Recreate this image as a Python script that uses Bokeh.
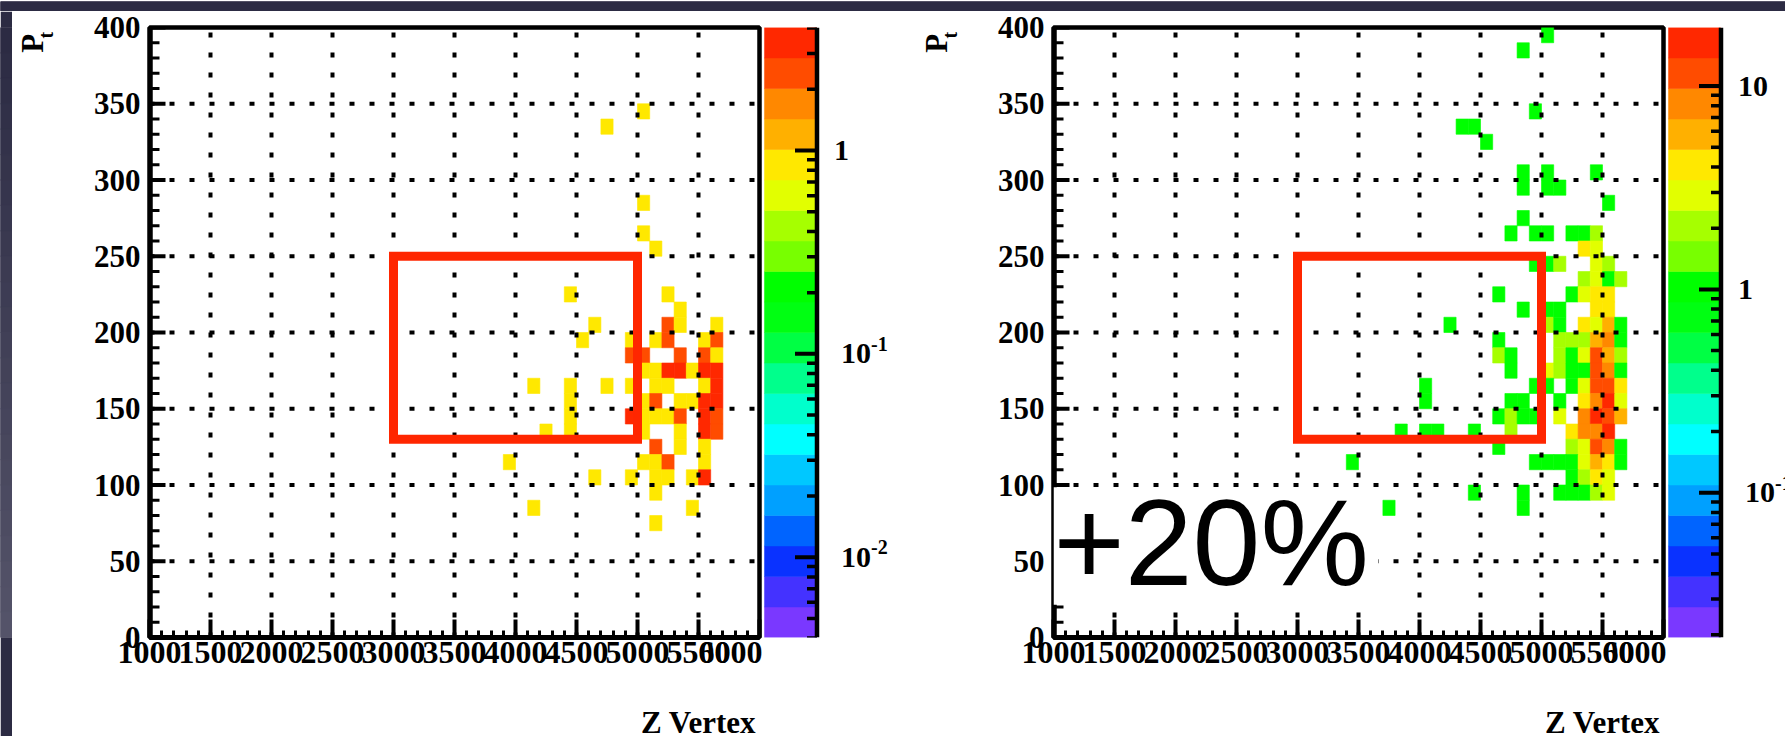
import math

from bokeh.core.properties import value
from bokeh.embed import file_html
from bokeh.layouts import column, row
from bokeh.models import ColumnDataSource, LogColorMapper, Range1d, SingleIntervalTicker
from bokeh.plotting import figure
from bokeh.resources import INLINE

# ---------------------------------------------------------------- data
Z_RANGE = (1000, 6000)     # Z vertex axis
PT_RANGE = (0, 400)        # Pt axis
Z_BIN = 100
PT_BIN = 10
Z_MAJOR = 500              # major tick / grid spacing in z
PT_MAJOR = 50              # major tick / grid spacing in pt
PT_MINOR = 10

# left histogram: lower bin edges (z, pt) and bin contents
left_z = [5000, 4700, 5000, 5000, 5100,
          4400, 5200, 5300,
          4600, 5200, 5300, 5600,
          4500, 4900, 5100, 5200, 5500, 5600,
          4900, 5000, 5300, 5500, 5600,
          5000, 5100, 5200, 5300, 5400, 5500, 5600,
          4100, 4400, 4700, 4900, 5100, 5200, 5500, 5600,
          4400, 5000, 5100, 5300, 5400, 5500, 5600,
          4400, 4900, 5000, 5100, 5200, 5300, 5500, 5600,
          4200, 4400, 5000, 5300, 5500, 5600,
          5100, 5300, 5500,
          3900, 5000, 5100, 5200, 5500,
          4600, 4900, 5100, 5200, 5400, 5500,
          5100, 4100, 5400, 5100]
left_pt = [340, 330, 280, 260, 250,
           220, 220, 210,
           200, 200, 200, 200,
           190, 190, 190, 190, 190, 190,
           180, 180, 180, 180, 180,
           170, 170, 170, 170, 170, 170, 170,
           160, 160, 160, 160, 160, 160, 160, 160,
           150, 150, 150, 150, 150, 150, 150,
           140, 140, 140, 140, 140, 140, 140, 140,
           130, 130, 130, 130, 130, 130,
           120, 120, 120,
           110, 110, 110, 110, 110,
           100, 100, 100, 100, 100, 100,
           90, 80, 80, 70]
left_w = [1.0, 1.0, 1.0, 1.0, 1.0,
          1.0, 1.0, 1.0,
          1.0, 2.5, 1.0, 1.0,
          1.0, 1.0, 1.0, 2.5, 1.0, 2.5,
          2.5, 2.5, 2.5, 2.5, 1.0,
          1.0, 1.0, 3.5, 3.5, 1.0, 3.5, 3.5,
          1.0, 1.0, 1.0, 1.0, 1.0, 1.0, 1.0, 3.5,
          1.0, 1.0, 2.5, 1.0, 1.0, 3.5, 3.5,
          1.0, 3.5, 1.0, 1.0, 1.0, 2.5, 3.5, 2.5,
          1.0, 1.0, 1.0, 1.0, 3.5, 2.5,
          2.5, 1.0, 1.0,
          1.0, 1.0, 1.0, 2.5, 1.0,
          1.0, 1.0, 1.0, 1.0, 1.0, 3.5,
          1.0, 1.0, 1.0, 1.0]

# right histogram (+20%)
right_z = [5000, 4800, 4900, 4300, 4400, 4500,
           4800, 5000, 5400,
           4800, 5000, 5100,
           5500, 4800,
           4700, 4900, 5000, 5200, 5300, 5400,
           5300, 5400,
           4900, 5000, 5100, 5400, 5500,
           5300, 5400, 5500, 5600,
           4600, 5200, 5300, 5400, 5500,
           4800, 5000, 5100, 5400, 5500,
           4200, 5000, 5100, 5300, 5400, 5500, 5600,
           4600, 5100, 5200, 5300, 5400, 5500, 5600,
           4600, 4700, 5100, 5200, 5300, 5400, 5500, 5600,
           4700, 5000, 5100, 5200, 5300, 5400, 5500, 5600,
           4000, 4900, 5000, 5200, 5300, 5400, 5500, 5600,
           4000, 4700, 4800, 5100, 5300, 5400, 5500, 5600,
           4600, 4700, 4800, 4900, 5100, 5300, 5400, 5500, 5600,
           3800, 4000, 4100, 4400, 4700, 5200, 5300, 5400, 5500,
           4600, 5200, 5300, 5400, 5500, 5600,
           3400, 4900, 5000, 5100, 5200, 5300, 5400, 5500, 5600,
           5200, 5300, 5400, 5500,
           4400, 4800, 5100, 5200, 5300, 5400, 5500,
           3700, 4800]
right_pt = [390, 380, 340, 330, 330, 320,
            300, 300, 300,
            290, 290, 290,
            280, 270,
            260, 260, 260, 260, 260, 260,
            250, 250,
            240, 240, 240, 240, 240,
            230, 230, 230, 230,
            220, 220, 220, 220, 220,
            210, 210, 210, 210, 210,
            200, 200, 200, 200, 200, 200, 200,
            190, 190, 190, 190, 190, 190, 190,
            180, 180, 180, 180, 180, 180, 180, 180,
            170, 170, 170, 170, 170, 170, 170, 170,
            160, 160, 160, 160, 160, 160, 160, 160,
            150, 150, 150, 150, 150, 150, 150, 150,
            140, 140, 140, 140, 140, 140, 140, 140, 140,
            130, 130, 130, 130, 130, 130, 130, 130, 130,
            120, 120, 120, 120, 120, 120,
            110, 110, 110, 110, 110, 110, 110, 110, 110,
            100, 100, 100, 100,
            90, 90, 90, 90, 90, 90, 90,
            80, 80]
right_w = [1, 1, 1, 1, 1, 1,
           1, 1, 1,
           1, 1, 1,
           1, 1,
           1, 1, 1, 1, 1, 2,
           4, 3,
           1, 1, 2, 3, 2,
           2, 3, 1, 2,
           1, 1, 3, 4, 4,
           1, 1, 1, 4, 4,
           1, 2, 1, 4, 3, 6, 1,
           1, 2, 2, 2, 6, 8, 1,
           2, 1, 2, 1, 3, 11, 6, 2,
           1, 3, 2, 1, 1, 11, 8, 1,
           1, 1, 1, 1, 3, 11, 11, 4,
           1, 1, 1, 1, 4, 8, 15, 3,
           1, 2, 1, 1, 3, 8, 15, 11, 6,
           1, 1, 1, 1, 2, 4, 8, 8, 15,
           1, 2, 3, 11, 8, 1,
           1, 1, 1, 1, 1, 3, 6, 4, 1,
           1, 2, 4, 3,
           1, 1, 1, 1, 1, 2, 3,
           1, 1]

# colour axis ranges (log scale, three decades each)
left_zaxis = (10 ** -2.395, 10 ** 0.605)
right_zaxis = (10 ** -1.712, 10 ** 1.288)

# signal window drawn on both histograms
window_z = (3000, 5000)
window_pt = (130, 250)

# annotation on the right histogram
boost_text = "+20%"
boost_box_z = (1000, 3660)
boost_box_pt = (21.5, 98.5)
boost_anchor = (1000, 62)

X_TITLE = "Z Vertex"
Y_TITLE, Y_TITLE_SUB = "P", "t"

# 20-level rainbow palette, low to high
PALETTE = ["#7a38ff", "#4432ff", "#0a32ff", "#0064ff", "#00a0ff",
           "#00c8ff", "#00ffff", "#00ffcc", "#00ff8c", "#00ff44",
           "#00ff12", "#00ff00", "#78ff00", "#a6ff00", "#e2ff00",
           "#ffe800", "#ffb000", "#ff8800", "#ff4c00", "#ff2800"]

# ---------------------------------------------------------------- layout
TOP_STRIP = 11
LEFT_STRIP = 12
PANEL_H = 725
YTITLE_W = 45
MAIN_W = 705
XTITLE_H = 48
MAIN_H = PANEL_H - XTITLE_H
CBAR_W_LEFT = 154
CBAR_W_RIGHT = 119
FRAME_L, FRAME_R, FRAME_T = 92, 3, 16
FRAME_W = MAIN_W - FRAME_L - FRAME_R
FRAME_H = 610
FRAME_B = MAIN_H - FRAME_T - FRAME_H
CB_FRAME_B = PANEL_H - FRAME_T - FRAME_H

SERIF = "Liberation Serif"
SLIDE_TOP = "#2c2b43"
SLIDE_BOTTOM = "#545369"


def bare_figure(width, height, x_range, y_range, **kw):
    f = figure(width=width, height=height, x_range=x_range, y_range=y_range,
               x_axis_location=None, y_axis_location=None,
               toolbar_location=None, output_backend="svg", title=None, **kw)
    f.outline_line_color = None
    for g in f.grid:
        g.visible = False
    return f


def hist_panel(zs, pts, ws, mapper):
    p = figure(width=MAIN_W, height=MAIN_H,
               x_range=Range1d(*Z_RANGE), y_range=Range1d(*PT_RANGE),
               min_border_left=FRAME_L, min_border_right=FRAME_R,
               min_border_top=FRAME_T, min_border_bottom=FRAME_B,
               toolbar_location=None, output_backend="svg", title=None)
    p.outline_line_color = "black"
    p.outline_line_width = 4.5
    p.outline_line_alpha = 1
    p.grid.visible = False

    xa, ya = p.xaxis[0], p.yaxis[0]
    xa.ticker = SingleIntervalTicker(interval=Z_MAJOR, num_minor_ticks=5)
    ya.ticker = SingleIntervalTicker(interval=PT_MAJOR, num_minor_ticks=PT_MAJOR // PT_MINOR)
    for ax in (xa, ya):
        ax.axis_line_width = 5
        ax.major_tick_out = 0
        ax.minor_tick_out = 0
        ax.major_tick_line_width = 4
        ax.minor_tick_line_width = 3
        ax.major_label_text_font = SERIF
        ax.major_label_text_font_style = "bold"
        ax.major_label_text_color = "black"
    xa.major_label_text_font_size = "32px"
    ya.major_label_text_font_size = "31px"
    xa.major_tick_in = 18
    xa.minor_tick_in = 7
    xa.major_label_standoff = 4
    # the pt axis keeps its labels; its line and ticks are drawn as glyphs below
    ya.axis_line_color = None
    ya.major_tick_in = 0
    ya.minor_tick_in = 0
    ya.major_label_standoff = 9

    src = ColumnDataSource(dict(
        left=zs, right=[z + Z_BIN for z in zs],
        bottom=pts, top=[v + PT_BIN for v in pts], w=ws))
    fill = {"field": "w", "transform": mapper}
    p.quad(left="left", right="right", bottom="bottom", top="top", source=src,
           fill_color=fill, line_color=fill, line_width=0.6)

    # dotted grid drawn over the cells
    gz = list(range(Z_RANGE[0] + Z_MAJOR, Z_RANGE[1], Z_MAJOR))
    gp = list(range(PT_RANGE[0] + PT_MAJOR, PT_RANGE[1], PT_MAJOR))
    grid_style = dict(line_color="black", line_width=4, line_dash="5 15")
    p.segment(x0=gz, y0=[PT_RANGE[0]] * len(gz), x1=gz, y1=[PT_RANGE[1]] * len(gz), **grid_style)
    p.segment(x0=[Z_RANGE[0]] * len(gp), y0=gp, x1=[Z_RANGE[1]] * len(gp), y1=gp, **grid_style)

    # pt axis ticks, pointing into the frame
    z_per_px = (Z_RANGE[1] - Z_RANGE[0]) / FRAME_W
    majors = list(range(PT_RANGE[0], PT_RANGE[1] + 1, PT_MAJOR))
    minors = [v for v in range(PT_RANGE[0], PT_RANGE[1] + 1, PT_MINOR) if v % PT_MAJOR]
    z0 = Z_RANGE[0]
    p.segment(x0=[z0] * len(majors), y0=majors, x1=[z0 + 16 * z_per_px] * len(majors), y1=majors,
              line_color="black", line_width=4)
    p.segment(x0=[z0] * len(minors), y0=minors, x1=[z0 + 10 * z_per_px] * len(minors), y1=minors,
              line_color="black", line_width=3)
    p.segment(x0=[z0 + 1.5 * z_per_px], y0=[PT_RANGE[0]], x1=[z0 + 1.5 * z_per_px], y1=[PT_RANGE[1]],
              line_color="black", line_width=3.5)
    return p


def add_window(p):
    p.quad(left=[window_z[0]], right=[window_z[1]],
           bottom=[window_pt[0]], top=[window_pt[1]],
           fill_color=None, line_color="#ff2600", line_width=9, line_join="miter")


def x_title_panel():
    t = bare_figure(MAIN_W, XTITLE_H, Range1d(0, MAIN_W), Range1d(0, XTITLE_H), min_border=0)
    t.text(x=[FRAME_L + FRAME_W - 1], y=[14], text=[X_TITLE],
           text_font=value(SERIF), text_font_style="bold", text_font_size="31px",
           text_align="right", text_baseline="middle", text_color="black")
    return t


def y_title_panel():
    t = bare_figure(YTITLE_W, PANEL_H, Range1d(0, YTITLE_W), Range1d(0, PANEL_H), min_border=0)
    style = dict(text_font=value(SERIF), text_font_style="bold", angle=math.pi / 2,
                 text_align="left", text_baseline="middle", text_color="black")
    t.text(x=[19.5], y=[PANEL_H - 30], text=[Y_TITLE], text_font_size="31px", **style)
    t.text(x=[33], y=[PANEL_H - 13], text=[Y_TITLE_SUB], text_font_size="20px", **style)
    return t


def colorbar_panel(mapper, width):
    lo, hi = mapper.low, mapper.high
    cb = bare_figure(width, PANEL_H, Range1d(0, width), Range1d(lo, hi),
                     y_axis_type="log", min_border_left=0, min_border_right=0,
                     min_border_top=FRAME_T, min_border_bottom=CB_FRAME_B)

    n = len(mapper.palette)
    edges = [lo * (hi / lo) ** (i / n) for i in range(n + 1)]
    bar_l, bar_r = 2, 54
    cb.quad(left=bar_l, right=bar_r, bottom=edges[:-1], top=edges[1:],
            fill_color=list(mapper.palette), line_color=list(mapper.palette),
            line_width=0.5)

    ax_x = bar_r + 0.5
    cb.segment(x0=[ax_x], y0=[lo], x1=[ax_x], y1=[hi], line_color="black", line_width=4.5)

    e0, e1 = math.floor(math.log10(lo)), math.ceil(math.log10(hi))
    majors = [10.0 ** e for e in range(e0, e1 + 1) if lo <= 10.0 ** e <= hi]
    minors = [k * 10.0 ** e for e in range(e0, e1 + 1) for k in range(2, 10)
              if lo * 0.99 <= k * 10.0 ** e <= hi * 1.01]
    cb.segment(x0=[ax_x - 22] * len(majors), y0=majors, x1=[ax_x] * len(majors), y1=majors,
               line_color="black", line_width=4)
    cb.segment(x0=[ax_x - 10] * len(minors), y0=minors, x1=[ax_x] * len(minors), y1=minors,
               line_color="black", line_width=3.5)

    dec_per_px = math.log10(hi / lo) / FRAME_H
    plain_x, plain_y, plain_t = [], [], []
    base_x, base_y, exp_x, exp_y, exp_t = [], [], [], [], []
    for m in majors:
        e = round(math.log10(m))
        if e >= 0:
            plain_x.append(ax_x + 17)
            plain_y.append(m)
            plain_t.append(str(10 ** e))
        else:
            base_x.append(ax_x + 24)
            base_y.append(m)
            exp_x.append(ax_x + 24 + 30)
            exp_y.append(m * 10 ** (10 * dec_per_px))
            exp_t.append(str(e))
    style = dict(text_font=value(SERIF), text_font_style="bold", text_baseline="middle",
                 text_align="left", text_color="black")
    cb.text(x=plain_x + base_x, y=plain_y + base_y, text=plain_t + ["10"] * len(base_x),
            text_font_size="30px", **style)
    cb.text(x=exp_x, y=exp_y, text=exp_t, text_font_size="20px", **style)
    return cb


def slide_strip(width, height, vertical_gradient):
    s = bare_figure(width, height, Range1d(0, 1), Range1d(0, 1), min_border=0)
    s.background_fill_color = SLIDE_TOP
    s.border_fill_color = SLIDE_TOP
    steps = 24 if vertical_gradient else 1

    def mix(t):
        a = [int(SLIDE_TOP[i:i + 2], 16) for i in (1, 3, 5)]
        b = [int(SLIDE_BOTTOM[i:i + 2], 16) for i in (1, 3, 5)]
        return "#" + "".join("%02x" % round(x + (y - x) * t) for x, y in zip(a, b))

    tops = [1 - i / steps for i in range(steps)]
    bots = [1 - (i + 1) / steps for i in range(steps)]
    cols = [mix(i / max(steps - 1, 1)) if vertical_gradient else SLIDE_TOP for i in range(steps)]
    s.quad(left=0, right=1, top=tops, bottom=bots, fill_color=cols, line_color=cols)
    return s


left_mapper = LogColorMapper(palette=PALETTE, low=left_zaxis[0], high=left_zaxis[1])
right_mapper = LogColorMapper(palette=PALETTE, low=right_zaxis[0], high=right_zaxis[1])

left_hist = hist_panel(left_z, left_pt, left_w, left_mapper)
add_window(left_hist)

right_hist = hist_panel(right_z, right_pt, right_w, right_mapper)
add_window(right_hist)
# slide annotation pasted over the right histogram
right_hist.quad(left=[boost_box_z[0]], right=[boost_box_z[1]],
                bottom=[boost_box_pt[0]], top=[boost_box_pt[1]],
                fill_color="white", line_color=None)
right_hist.text(x=[boost_anchor[0]], y=[boost_anchor[1]], text=[boost_text],
                text_font=value("Liberation Sans"), text_font_size="122px",
                text_baseline="middle", text_align="left", text_color="black")

left_cbar = colorbar_panel(left_mapper, CBAR_W_LEFT)
right_cbar = colorbar_panel(right_mapper, CBAR_W_RIGHT)

total_w = LEFT_STRIP + 2 * (YTITLE_W + MAIN_W) + CBAR_W_LEFT + CBAR_W_RIGHT
page = column(
    slide_strip(total_w, TOP_STRIP, False),
    row(slide_strip(LEFT_STRIP, PANEL_H, True),
        y_title_panel(), column(left_hist, x_title_panel(), spacing=0), left_cbar,
        y_title_panel(), column(right_hist, x_title_panel(), spacing=0), right_cbar,
        spacing=0),
    spacing=0,
)

open("out.html", "w").write(file_html(page, INLINE))
